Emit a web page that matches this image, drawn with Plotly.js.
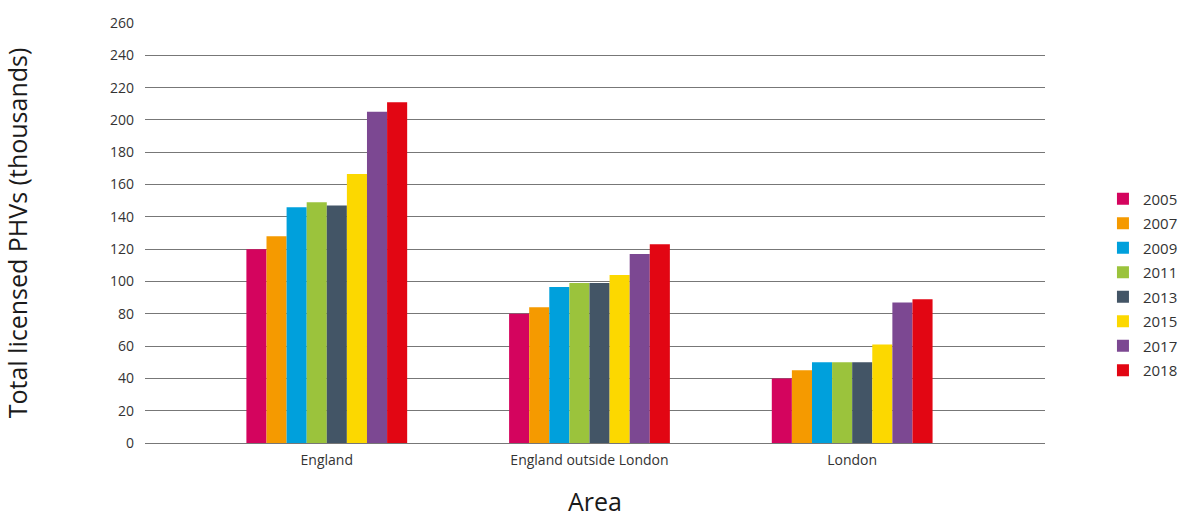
<!DOCTYPE html>
<html>
<head>
<meta charset="utf-8">
<script src="https://cdn.plot.ly/plotly-3.0.1.min.js"></script>
<style>html,body{margin:0;padding:0;background:#fff}#chart{width:1183px;height:518px}</style>
</head>
<body>
<div id="chart"></div>
<script>
const areas = ["England", "England outside London", "London"];
const years = ["2005", "2007", "2009", "2011", "2013", "2015", "2017", "2018"];
const colors = ["#d4045e", "#f59a00", "#00a0dc", "#9bc33c", "#435566", "#fcd800", "#7c4892", "#e20613"];
const v2005 = [120, 80, 40];
const v2007 = [128, 84, 45];
const v2009 = [146, 96.5, 50];
const v2011 = [149, 99, 50];
const v2013 = [147, 99, 50];
const v2015 = [166.5, 104, 61];
const v2017 = [205, 117, 87];
const v2018 = [211, 123, 89];
const series = [v2005, v2007, v2009, v2011, v2013, v2015, v2017, v2018];

const traces = years.map((yr, i) => ({
  type: "bar",
  name: yr,
  x: areas,
  y: series[i],
  marker: {color: colors[i], line: {width: 0}},
  legendgroup: yr,
  hoverinfo: "x+y+name"
}));

const layout = {
  width: 1183,
  height: 518,
  margin: {l: 145, r: 138, t: 23, b: 75, autoexpand: false},
  paper_bgcolor: "#fff",
  plot_bgcolor: "#fff",
  font: {family: "'Open Sans', sans-serif", size: 14, color: "#333"},
  barmode: "group",
  bargap: 0.388,
  bargroupgap: 0,
  xaxis: {
    type: "category",
    range: [-0.692, 2.734],
    showgrid: false,
    zeroline: false,
    showline: false,
    ticks: "",
    automargin: false,
    ticklabelstandoff: 7,
    tickfont: {size: 14, color: "#333"},
    title: {text: "Area", font: {size: 25, color: "#1a1a1a"}, standoff: 52}
  },
  yaxis: {
    range: [0, 260],
    dtick: 20,
    tick0: 0,
    showgrid: true,
    gridcolor: "#777",
    gridwidth: 1,
    zeroline: true,
    zerolinecolor: "#777",
    zerolinewidth: 1,
    showline: false,
    ticks: "",
    automargin: false,
    ticklabelstandoff: 10,
    tickfont: {size: 14, color: "#333"},
    title: {text: "Total licensed PHVs (thousands)", font: {size: 25, color: "#1a1a1a"}, standoff: 77}
  },
  legend: {
    x: 1.0644,
    xanchor: "left",
    y: 0.62,
    yanchor: "top",
    font: {size: 15, color: "#333"},
    tracegroupgap: 2,
    bgcolor: "rgba(0,0,0,0)"
  },
  showlegend: true
};

Plotly.newPlot("chart", traces, layout, {displayModeBar: false, staticPlot: true});
</script>
</body>
</html>
